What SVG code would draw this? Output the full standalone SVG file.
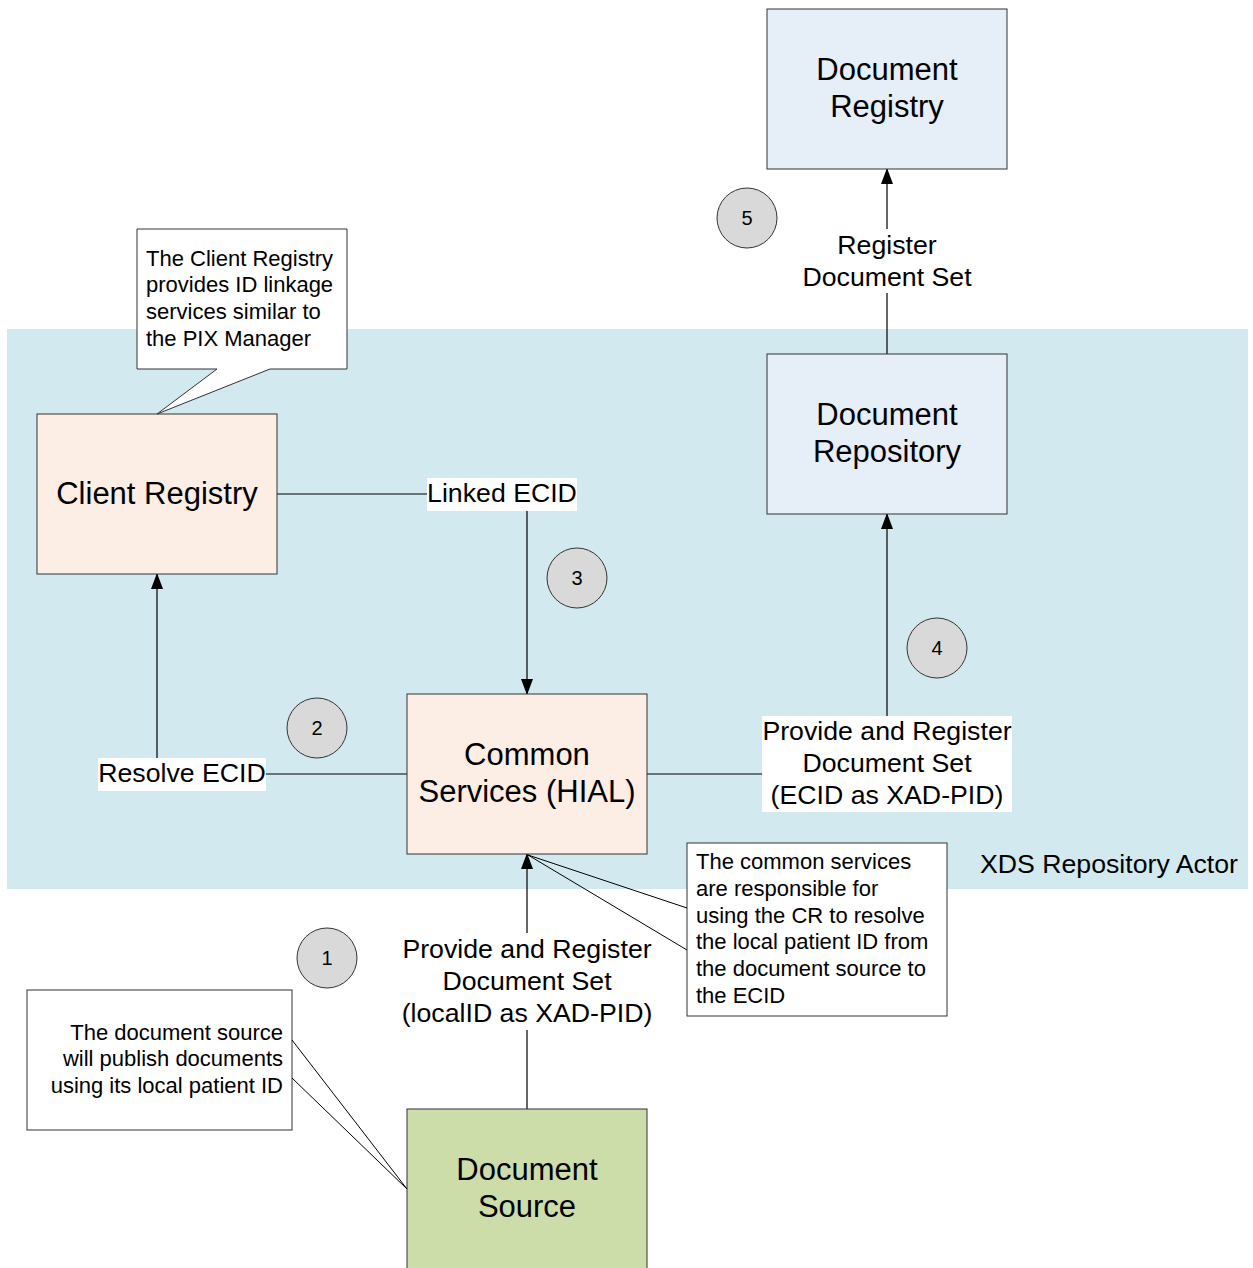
<svg xmlns="http://www.w3.org/2000/svg" width="1253" height="1268" viewBox="0 0 1253 1268">
<defs>
<style>
text{font-family:"Liberation Sans",Arial,sans-serif;fill:#000}
.box{stroke:#333;stroke-width:1}
.big{font-size:31px;text-anchor:middle}
.lbl{font-size:26.7px;text-anchor:middle}
.note{font-size:22px}
.num{font-size:20px;text-anchor:middle}
.conn{fill:none;stroke:#000;stroke-width:1.2}
.tail{fill:none;stroke:#000;stroke-width:1}
.circ{fill:#D9D9D9;stroke:#333;stroke-width:1}
.lbg{fill:#fff}
</style>
<marker id="arr" markerWidth="16" markerHeight="12" refX="15" refY="6" orient="auto" markerUnits="userSpaceOnUse">
<path d="M0,0 L16,6 L0,12 Z" fill="#000"/>
</marker>
</defs>
<rect width="1253" height="1268" fill="#fff"/>
<g id="xds-region">
<rect x="7" y="329" width="1241" height="560" fill="#D1E9EF"/>
<text x="1238" y="873" style="font-size:26.7px;text-anchor:end">XDS Repository Actor</text>
</g>
<g id="connectors">
<path class="conn" d="M277,494 H527 V694" marker-end="url(#arr)"/>
<path class="conn" d="M407,774 H157 V574" marker-end="url(#arr)"/>
<path class="conn" d="M647,774 H887 V514" marker-end="url(#arr)"/>
<path class="conn" d="M887,354 V169" marker-end="url(#arr)"/>
<path class="conn" d="M527,1109 V854" marker-end="url(#arr)"/>
<rect class="lbg" x="427" y="478" width="150" height="33"/>
<text class="lbl" x="502" y="502">Linked ECID</text>
<rect class="lbg" x="98" y="758" width="168" height="33"/>
<text class="lbl" x="182" y="782">Resolve ECID</text>
<rect class="lbg" x="762" y="716" width="250" height="96"/>
<text class="lbl" x="887" y="740">Provide and Register</text>
<text class="lbl" x="887" y="772">Document Set</text>
<text class="lbl" x="887" y="804">(ECID as XAD-PID)</text>
<rect class="lbg" x="800" y="229" width="174" height="64"/>
<text class="lbl" x="887" y="254">Register</text>
<text class="lbl" x="887" y="286">Document Set</text>
<rect class="lbg" x="400" y="933" width="254" height="97"/>
<text class="lbl" x="527" y="958">Provide and Register</text>
<text class="lbl" x="527" y="990">Document Set</text>
<text class="lbl" x="527" y="1022">(localID as XAD-PID)</text>
</g>
<g id="document-registry">
<rect class="box" x="767" y="9" width="240" height="160" fill="#E6EEF8"/>
<text class="big" x="887" y="80">Document</text>
<text class="big" x="887" y="117">Registry</text>
</g>
<g id="document-repository">
<rect class="box" x="767" y="354" width="240" height="160" fill="#E6EEF8"/>
<text class="big" x="887" y="425">Document</text>
<text class="big" x="887" y="462">Repository</text>
</g>
<g id="client-registry">
<rect class="box" x="37" y="414" width="240" height="160" fill="#FCEEE4"/>
<text class="big" x="157" y="504">Client Registry</text>
</g>
<g id="common-services">
<rect class="box" x="407" y="694" width="240" height="160" fill="#FCEEE4"/>
<text class="big" x="527" y="765">Common</text>
<text class="big" x="527" y="802">Services (HIAL)</text>
</g>
<g id="document-source">
<rect class="box" x="407" y="1109" width="240" height="165" fill="#CDDDAA"/>
<text class="big" x="527" y="1180">Document</text>
<text class="big" x="527" y="1217">Source</text>
</g>
<g id="note-client-registry">
<path d="M137,229 H347 V369 H270 L157,414 L217,369 H137 Z" fill="#fff" stroke="#333" stroke-width="1"/>
<text class="note" x="146" y="266">The Client Registry</text>
<text class="note" x="146" y="292">provides ID linkage</text>
<text class="note" x="146" y="319">services similar to</text>
<text class="note" x="146" y="346">the PIX Manager</text>
</g>
<g id="note-document-source">
<rect x="27" y="990" width="265" height="140" fill="#fff" stroke="#333" stroke-width="1"/>
<path class="tail" d="M292,1040 L407,1189 L292,1078"/>
<text class="note" x="283" y="1040" text-anchor="end">The document source</text>
<text class="note" x="283" y="1066" text-anchor="end">will publish documents</text>
<text class="note" x="283" y="1093" text-anchor="end">using its local patient ID</text>
</g>
<g id="note-common-services">
<rect x="687" y="843" width="260" height="173" fill="#fff" stroke="#333" stroke-width="1"/>
<path class="tail" d="M687,908 L528,855 L687,950"/>
<text class="note" x="696" y="869">The common services</text>
<text class="note" x="696" y="896">are responsible for</text>
<text class="note" x="696" y="923">using the CR to resolve</text>
<text class="note" x="696" y="949">the local patient ID from</text>
<text class="note" x="696" y="976">the document source to</text>
<text class="note" x="696" y="1003">the ECID</text>
</g>
<g id="step-1"><circle class="circ" cx="327" cy="958" r="30"/><text class="num" x="327" y="965">1</text></g>
<g id="step-2"><circle class="circ" cx="317" cy="728" r="30"/><text class="num" x="317" y="735">2</text></g>
<g id="step-3"><circle class="circ" cx="577" cy="578" r="30"/><text class="num" x="577" y="585">3</text></g>
<g id="step-4"><circle class="circ" cx="937" cy="648" r="30"/><text class="num" x="937" y="655">4</text></g>
<g id="step-5"><circle class="circ" cx="747" cy="218" r="30"/><text class="num" x="747" y="225">5</text></g>
</svg>
